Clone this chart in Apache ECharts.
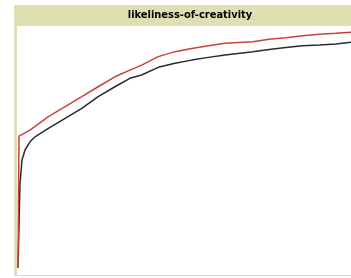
<!DOCTYPE html>
<html>
<head>
<meta charset="utf-8">
<script src="https://cdn.jsdelivr.net/npm/echarts@6/dist/echarts.min.js"></script>
<style>
  html, body { margin: 0; padding: 0; background: #fff; }
  #chart { width: 351px; height: 278px; }
</style>
</head>
<body>
<div id="chart"></div>
<script>
// x positions (0-100 of the run)
const redX = [0.3, 0.6, 0.9, 3.9, 9.4, 14.4, 19.4, 24.3, 29.3, 33.8, 37.3, 42.3, 47.3, 52.3, 57.3, 62.3, 70.6, 75.5, 80.5, 85.5, 90.5, 95.5, 100]
const redY = [2.8, 55.8, 56.2, 58.2, 63.6, 67.6, 71.6, 75.6, 79.6, 82.3, 84.3, 87.7, 89.7, 91.0, 92.1, 93.1, 93.7, 94.7, 95.3, 96.1, 96.7, 97.1, 97.5]
const blackX = [0.3, 0.9, 1.5, 2.4, 3.9, 5.4, 9.4, 14.4, 19.4, 24.3, 29.3, 33.8, 37.3, 42.3, 47.3, 52.3, 57.3, 62.3, 70.6, 75.5, 80.5, 85.5, 90.5, 95.5, 100]
const blackY = [2.8, 36.9, 46.2, 50.2, 53.5, 55.5, 58.9, 62.9, 66.9, 71.6, 75.6, 79.0, 80.3, 83.4, 85.0, 86.3, 87.4, 88.4, 89.7, 90.6, 91.4, 92.1, 92.4, 92.8, 93.5]

const chart = echarts.init(document.getElementById('chart'))

const zip = (xs, ys) => xs.map((x, i) => [x, ys[i]])

chart.setOption({
  animation: false,
  graphic: [
    { type: 'rect', shape: { x: 14, y: 5, width: 337, height: 271 }, style: { fill: '#dfdfb4' }, z: -10 },
    {
      type: 'text', x: 190, y: 15,
      style: {
        text: 'likeliness-of-creativity',
        fill: '#000',
        font: 'bold 11px "DejaVu Sans Condensed"',
        align: 'center',
        verticalAlign: 'middle'
      }
    }
  ],
  grid: {
    show: true, backgroundColor: '#fff', borderWidth: 0,
    left: 17, top: 26, width: 334, height: 249
  },
  xAxis: { type: 'value', min: 0, max: 100, show: false },
  yAxis: { type: 'value', min: 0, max: 100, show: false },
  series: [
    {
      type: 'line', data: zip(blackX, blackY), showSymbol: false,
      lineStyle: { color: '#2b2b2b', width: 1.5 }
    },
    {
      type: 'line', data: zip(redX, redY), showSymbol: false,
      lineStyle: { color: '#c8413a', width: 1.5 }
    }
  ]
})
</script>
</body>
</html>
